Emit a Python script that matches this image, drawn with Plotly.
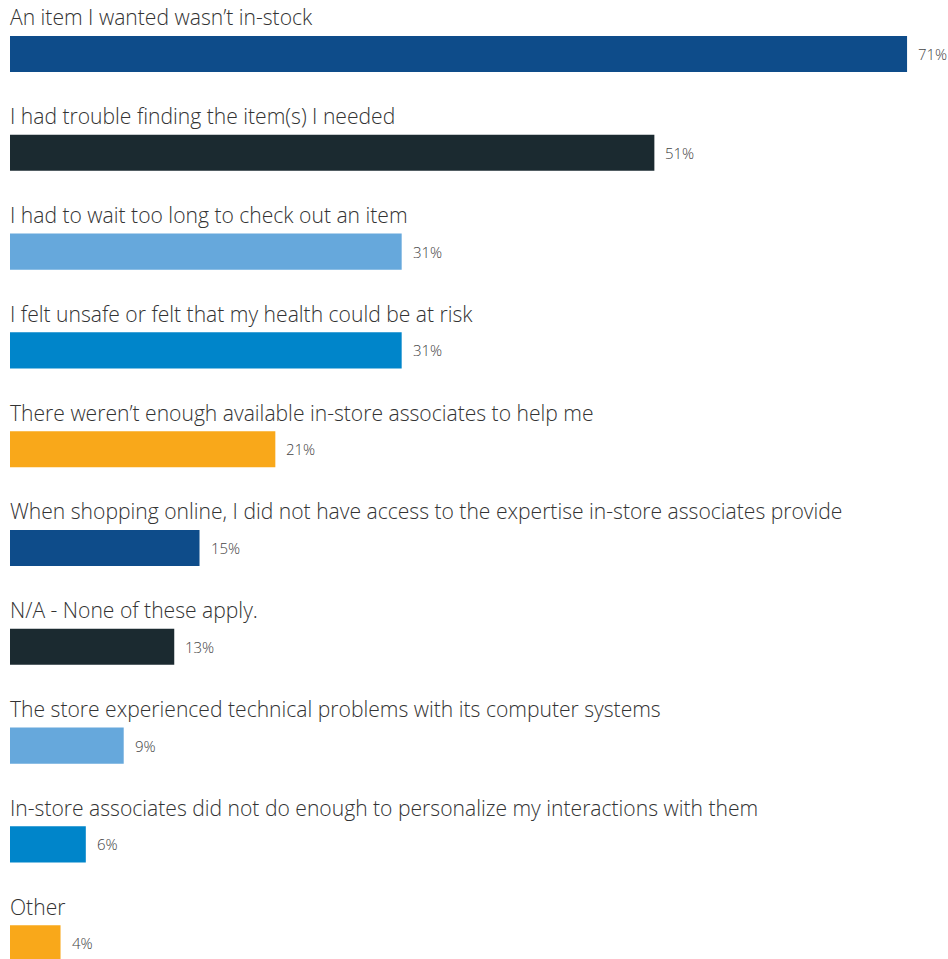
import plotly.graph_objects as go

categories = [
    "An item I wanted wasn\u2019t in-stock",
    "I had trouble finding the item(s) I needed",
    "I had to wait too long to check out an item",
    "I felt unsafe or felt that my health could be at risk",
    "There weren\u2019t enough available in-store associates to help me",
    "When shopping online, I did not have access to the expertise in-store associates provide",
    "N/A - None of these apply.",
    "The store experienced technical problems with its computer systems",
    "In-store associates did not do enough to personalize my interactions with them",
    "Other",
]
values = [71, 51, 31, 31, 21, 15, 13, 9, 6, 4]
colors = ["#0E4C8A", "#1B2A30", "#66A8DC", "#0085CA", "#F9A81A",
          "#0E4C8A", "#1B2A30", "#66A8DC", "#0085CA", "#F9A81A"]

positions = list(range(len(categories)))

fig = go.Figure(
    go.Bar(
        x=values,
        y=positions,
        orientation="h",
        marker=dict(color=colors, line=dict(width=0)),
        width=0.365,
        hoverinfo="skip",
    )
)

annotations = []
for pos, cat, val in zip(positions, categories, values):
    annotations.append(dict(
        x=0, y=pos - 0.375, xref="x", yref="y",
        text=cat, showarrow=False, xanchor="left", yanchor="middle",
        xshift=-2,
        font=dict(family="'Open Sans', sans-serif", size=21.1, weight=300,
                  color="#333333"),
    ))
    annotations.append(dict(
        x=val, y=pos, xref="x", yref="y",
        text=f"{val}%", showarrow=False, xanchor="left", yanchor="middle",
        xshift=9,
        font=dict(family="'Open Sans', sans-serif", size=15, weight=300,
                  color="#444444"),
    ))

fig.update_layout(
    width=948,
    height=959,
    margin=dict(l=10, r=0, t=0, b=0),
    paper_bgcolor="white",
    plot_bgcolor="white",
    showlegend=False,
    annotations=annotations,
    xaxis=dict(range=[0, 74.24], visible=False, fixedrange=True),
    yaxis=dict(range=[9.16, -0.5466], visible=False, fixedrange=True),
)

fig.write_html("out.html")
